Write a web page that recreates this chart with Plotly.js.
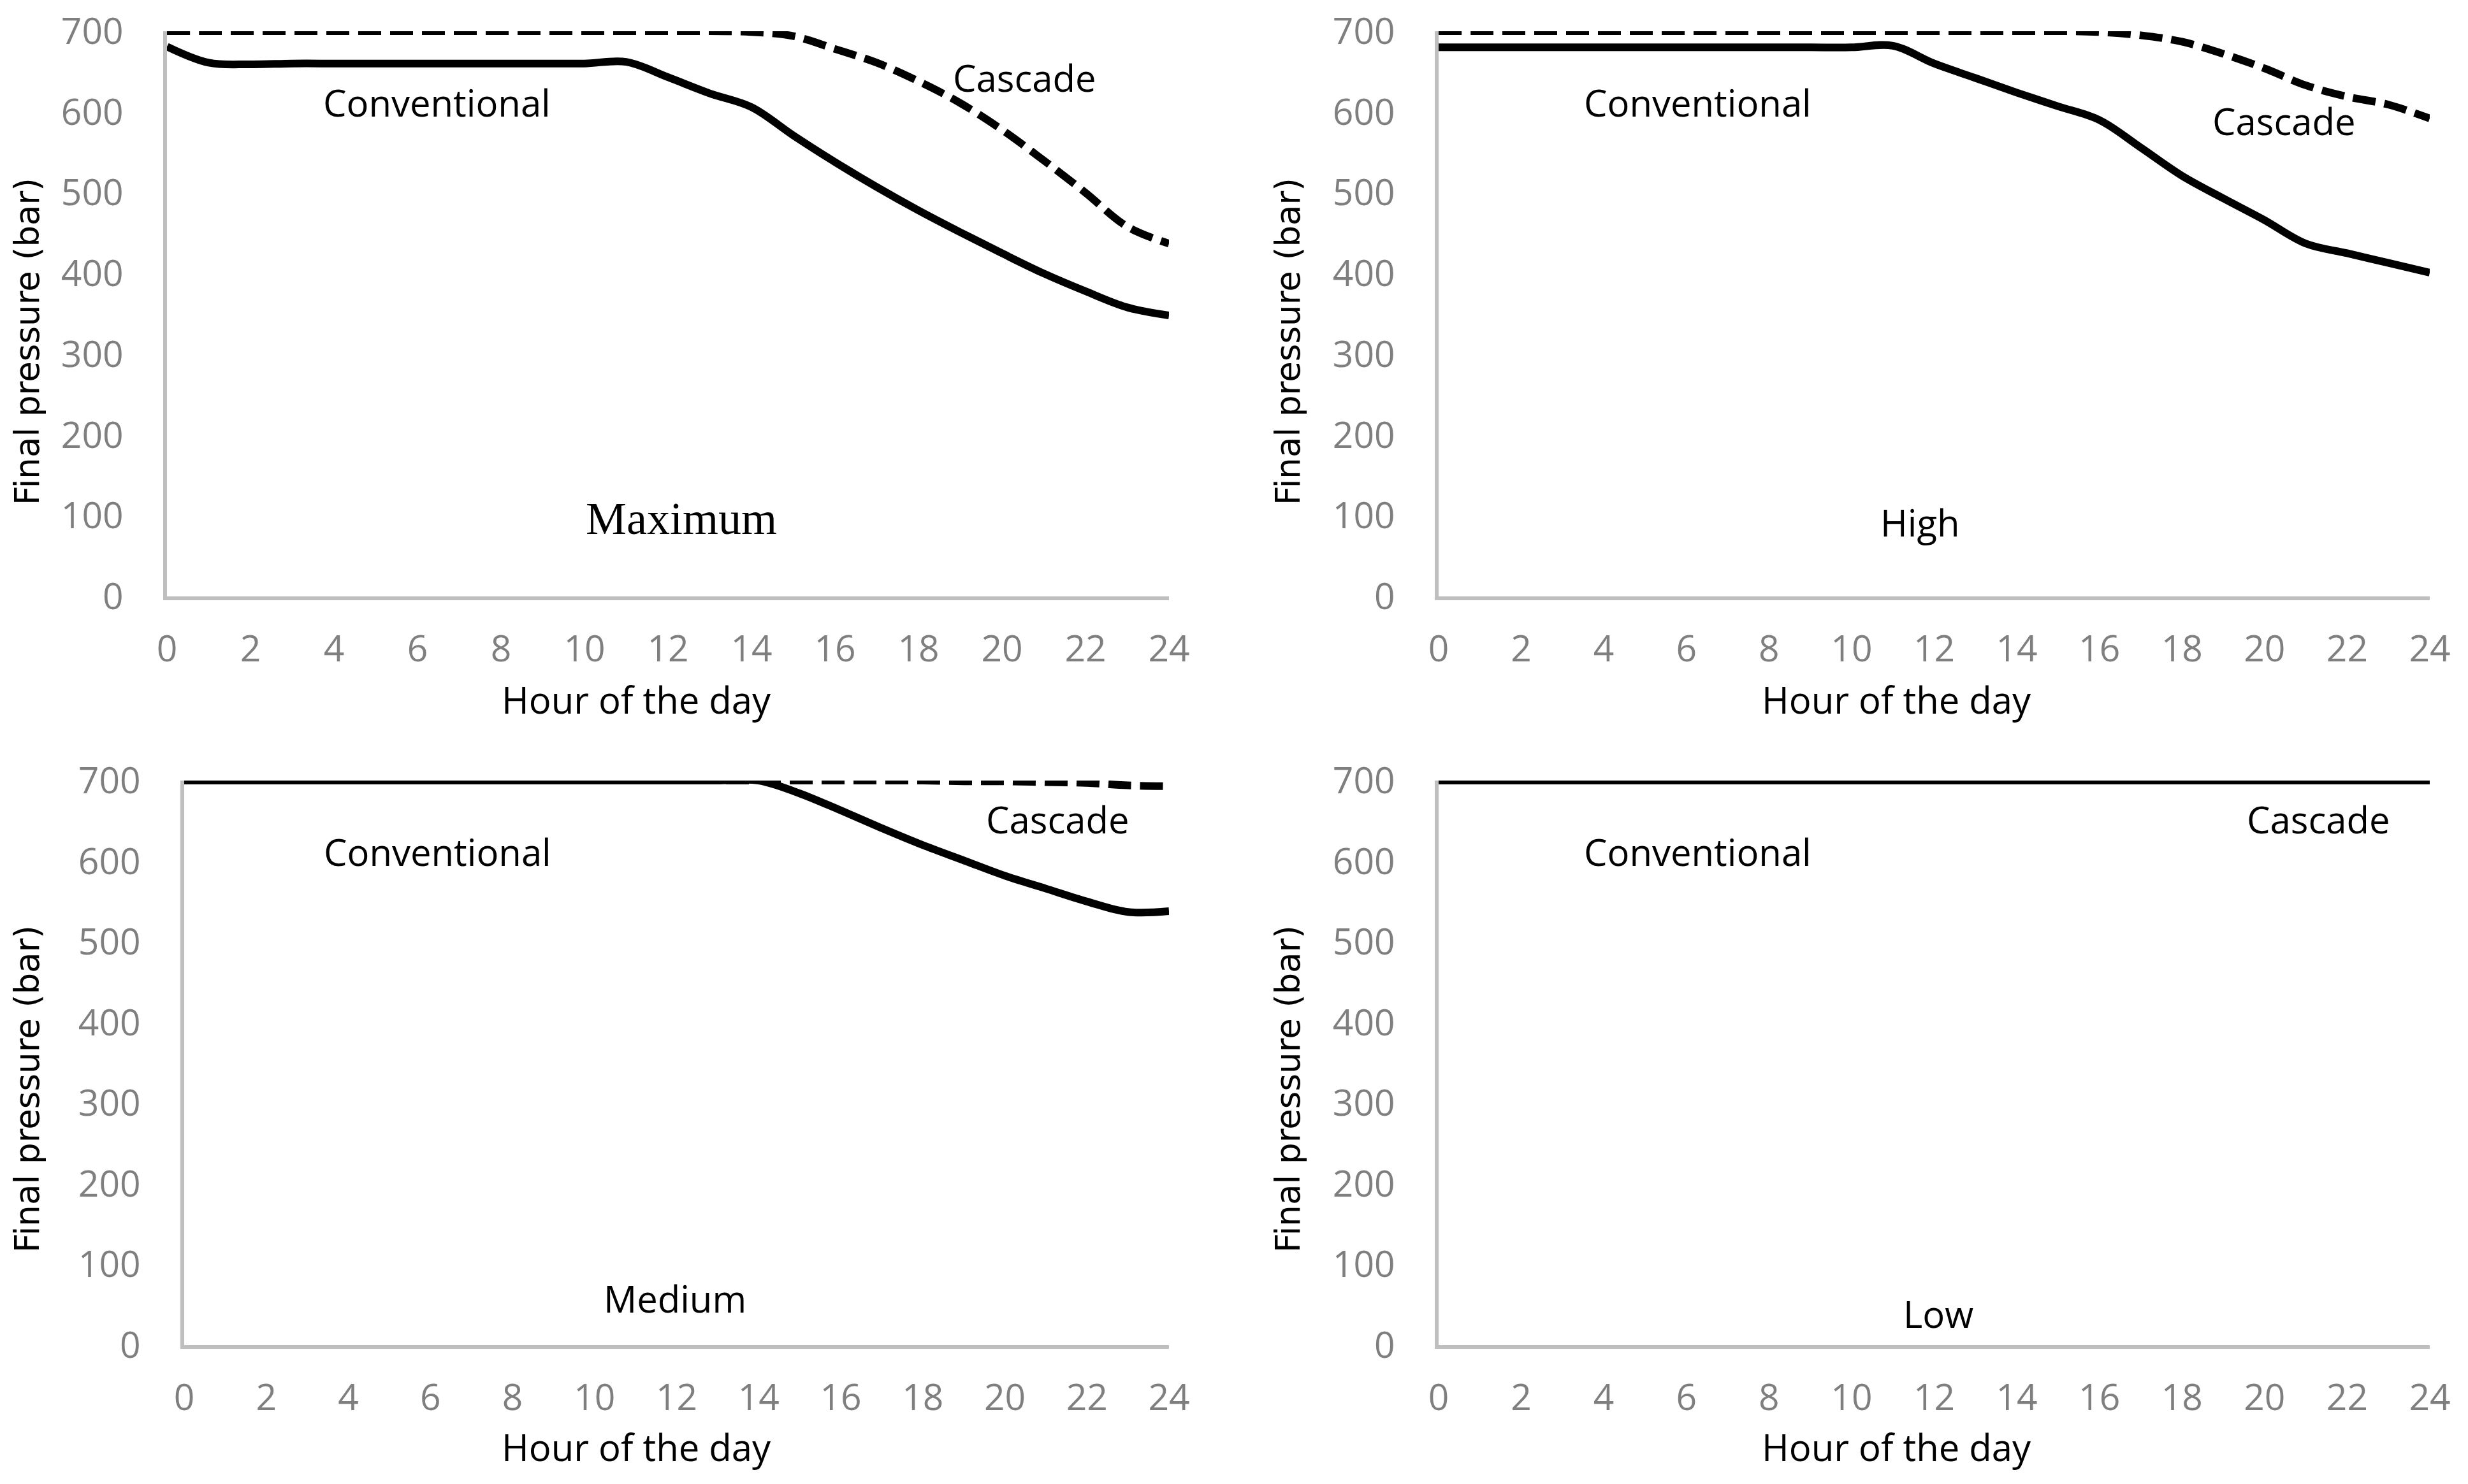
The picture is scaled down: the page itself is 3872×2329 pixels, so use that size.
<!DOCTYPE html>
<html>
<head>
<meta charset="utf-8">
<script src="https://cdn.plot.ly/plotly-3.0.1.min.js"></script>
<style>
  html, body { margin: 0; padding: 0; background: #ffffff; }
  #chart { width: 3872px; height: 2329px; }
</style>
</head>
<body>
<div id="chart"></div>
<script>
// ---- Data ----
const hours = [0,1,2,3,4,5,6,7,8,9,10,11,12,13,14,15,16,17,18,19,20,21,22,23,24];
const xTickVals = [0,2,4,6,8,10,12,14,16,18,20,22,24];
const yTickVals = [0,100,200,300,400,500,600,700];

const panelNames = ["Maximum", "High", "Medium", "Low"];

const maxConventional = [681,661,659,660,660,660,660,660,660,660,660,662,643,623,606,571,538,507,478,451,425,400,378,358,348];
const maxCascade      = [700,700,700,700,700,700,700,700,700,700,700,700,700,700,699,694,678,661,638,611,578,540,500,458,437];

const highConventional = [680,680,680,680,680,680,680,680,680,680,680,682,660,642,624,607,590,556,521,493,466,437,425,413,401];
const highCascade      = [700,700,700,700,700,700,700,700,700,700,700,700,700,700,700,700,699,695,687,672,654,633,619,609,592];

const medConventional = [700,700,700,700,700,700,700,700,700,700,700,700,700,700,700,684,663,641,620,601,582,566,550,537,538];
const medCascade      = [700,700,700,700,700,700,700,700,700,700,700,700,700,700,700,700,700,700,700,699,699,698,697,694,693];

const lowConventional = [700,700,700,700,700,700,700,700,700,700,700,700,700,700,700,700,700,700,700,700,700,700,700,700,700];
const lowCascade      = [700,700,700,700,700,700,700,700,700,700,700,700,700,700,700,700,700,700,700,700,700,700,700,700,700];

const seriesLabels = ["Conventional", "Cascade"];
const yTitleText = "Final pressure (bar)";
const xTitleText = "Hour of the day";

// ---- Styling ----
const W = 3872, H = 2329;
const tickFont = {family: "Open Sans, Noto Sans, sans-serif", size: 57, color: "#7f7f7f"};
const labelFont = {family: "Open Sans, Noto Sans, sans-serif", size: 58, color: "#000000"};
const serifFont = {family: "Liberation Serif, DejaVu Serif, serif", size: 72, color: "#000000"};
const yTitleFont = {family: "DejaVu Sans, Verdana, sans-serif", size: 53, color: "#000000"};
const xTitleFont = {family: "Open Sans, Noto Sans, sans-serif", size: 58, color: "#000000"};

const conv = [maxConventional, highConventional, medConventional, lowConventional];
const casc = [maxCascade, highCascade, medCascade, lowCascade];

const traces = [];
for (let i = 0; i < 4; i++) {
  const ax = i === 0 ? "" : String(i + 1);
  traces.push({
    x: hours, y: casc[i], xaxis: "x" + ax, yaxis: "y" + ax,
    type: "scatter", mode: "lines", name: seriesLabels[1],
    line: {color: "#000000", width: 12, dash: "36px,14px", shape: "spline", smoothing: 1},
    hoverinfo: "skip", showlegend: false
  });
  traces.push({
    x: hours, y: conv[i], xaxis: "x" + ax, yaxis: "y" + ax,
    type: "scatter", mode: "lines", name: seriesLabels[0],
    line: {color: "#000000", width: 12, shape: "spline", smoothing: 1},
    hoverinfo: "skip", showlegend: false
  });
}

function xAxis(domain, anchor) {
  return {
    domain: domain, anchor: anchor, range: [0, 24], tickmode: "array",
    tickvals: xTickVals, ticktext: xTickVals.map(String),
    showline: true, linecolor: "#bfbfbf", linewidth: 6,
    showgrid: false, zeroline: false, ticks: "", tickfont: tickFont,
    ticklabelstandoff: 28, fixedrange: true
  };
}
function yAxis(domain, anchor) {
  return {
    domain: domain, anchor: anchor, range: [0, 700], tickmode: "array",
    tickvals: yTickVals, ticktext: yTickVals.map(String),
    showline: true, linecolor: "#bfbfbf", linewidth: 6,
    showgrid: false, zeroline: false, ticks: "", tickfont: tickFont,
    ticklabelstandoff: 51, fixedrange: true
  };
}

const xd1 = [262 / W, 1834 / W], xd2 = [2257 / W, 3812 / W], xd3 = [289 / W, 1834 / W];
const ydTop = [1 - 936 / H, 1 - 49 / H], ydBot = [1 - 2111 / H, 1 - 1225 / H];

const annotations = [];
function ann(text, x, y, xref, yref, font, extra) {
  annotations.push(Object.assign({
    text: text, x: x, y: y, xref: xref, yref: yref, showarrow: false,
    xanchor: "center", yanchor: "middle", font: font
  }, extra || {}));
}
// series labels and panel names (data coordinates of each subplot)
ann(seriesLabels[0], 6.47, 612, "x", "y", labelFont);
ann(seriesLabels[1], 20.53, 643, "x", "y", labelFont);
ann(panelNames[0], 12.32, 96, "x", "y", serifFont);

ann(seriesLabels[0], 6.28, 612, "x2", "y2", labelFont);
ann(seriesLabels[1], 20.46, 589, "x2", "y2", labelFont);
ann(panelNames[1], 11.65, 92, "x2", "y2", labelFont);

ann(seriesLabels[0], 6.17, 612, "x3", "y3", labelFont);
ann(seriesLabels[1], 21.28, 652, "x3", "y3", labelFont);
ann(panelNames[2], 11.96, 58, "x3", "y3", labelFont);

ann(seriesLabels[0], 6.28, 612, "x4", "y4", labelFont);
ann(seriesLabels[1], 21.3, 652, "x4", "y4", labelFont);
ann(panelNames[3], 12.1, 39, "x4", "y4", labelFont);

// axis titles
const yTitlePos = [[42, 536], [2020, 536], [42, 1709], [2020, 1709]];
const xTitlePos = [[999, 1097], [2975, 1097], [999, 2270], [2975, 2270]];
for (let i = 0; i < 4; i++) {
  ann(yTitleText, yTitlePos[i][0] / W, 1 - yTitlePos[i][1] / H, "paper", "paper", yTitleFont, {textangle: -90});
  ann(xTitleText, xTitlePos[i][0] / W, 1 - xTitlePos[i][1] / H, "paper", "paper", xTitleFont);
}

const layout = {
  width: W, height: H,
  margin: {l: 0, r: 0, t: 0, b: 0, pad: 0},
  paper_bgcolor: "#ffffff", plot_bgcolor: "#ffffff",
  showlegend: false,
  xaxis: xAxis(xd1, "y"), yaxis: yAxis(ydTop, "x"),
  xaxis2: xAxis(xd2, "y2"), yaxis2: yAxis(ydTop, "x2"),
  xaxis3: xAxis(xd3, "y3"), yaxis3: yAxis(ydBot, "x3"),
  xaxis4: xAxis(xd2, "y4"), yaxis4: yAxis(ydBot, "x4"),
  annotations: annotations
};

Plotly.newPlot("chart", traces, layout, {displayModeBar: false, staticPlot: true});
</script>
</body>
</html>
